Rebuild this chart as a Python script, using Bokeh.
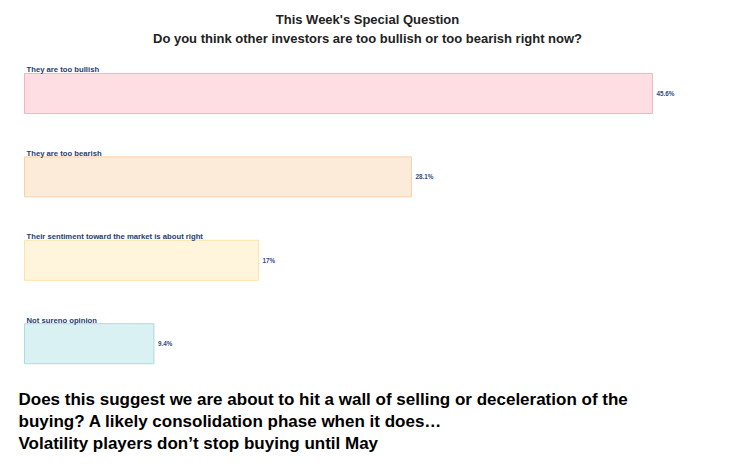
from bokeh.plotting import figure
from bokeh.models import ColumnDataSource, Range1d, Label
from bokeh.core.properties import value
from bokeh.embed import file_html
from bokeh.resources import INLINE

categories = ["They are too bullish", "They are too bearish",
              "Their sentiment toward the market is about right", "Not sureno opinion"]
values = [45.6, 28.1, 17.0, 9.4]
value_labels = ["45.6%", "28.1%", "17%", "9.4%"]
fill_colors = ["#FEDDE3", "#FDEBD9", "#FFF4DC", "#D9F1F2"]
line_colors = ["#F5B3C2", "#FAD0A0", "#FDE3AA", "#ABDCDE"]

title_lines = ["This Week's Special Question",
               "Do you think other investors are too bullish or too bearish right now?"]
footer_lines = ["Does this suggest we are about to hit a wall of selling or deceleration of the",
                "buying? A likely consolidation phase when it does\u2026",
                "Volatility players don\u2019t stop buying until May"]

W, H = 713, 458
px_per_unit = 13.77
left_pad = 24
row_px = 83.4
first_center = 93

idx = list(range(len(categories)))
src = ColumnDataSource(dict(
    y=idx, v=values, cat=categories, lab=value_labels,
    fill=fill_colors, line=line_colors,
    top=[i - 0.24 for i in idx],
))

p = figure(width=W, height=H, output_backend="svg", toolbar_location=None,
           x_range=Range1d(-left_pad / px_per_unit, (W - left_pad) / px_per_unit),
           y_range=Range1d((H - first_center) / row_px, -first_center / row_px),
           min_border=0, outline_line_color=None)
p.axis.visible = False
p.grid.visible = False
p.background_fill_color = "white"
p.border_fill_color = "white"

p.hbar(y="y", left=0, right="v", height=0.48, source=src,
       fill_color="fill", line_color="line", line_width=1)

p.text(x=0, y="top", text="cat", source=src, x_offset=2, y_offset=1,
       text_font=value("Liberation Sans"), text_font_style="bold",
       text_font_size="7.7px", text_color="#1F3D73", text_baseline="bottom")

p.text(x="v", y="y", text="lab", source=src, x_offset=4,
       text_font=value("Liberation Sans"), text_font_style="bold",
       text_font_size="6.3px", text_color="#2E4C80", text_baseline="middle")

title_centers = [19, 38]
for t, yc in zip(title_lines, title_centers):
    p.add_layout(Label(x=367, y=H - yc, x_units="screen", y_units="screen",
                       text=t, text_align="center", text_baseline="middle",
                       text_font="Liberation Sans", text_font_style="bold",
                       text_font_size="13px", text_color="#222222"))

footer_baselines = [399, 421, 443]
for t, yb in zip(footer_lines, footer_baselines):
    p.add_layout(Label(x=18, y=H - yb, x_units="screen", y_units="screen",
                       text=t, text_align="left", text_baseline="alphabetic",
                       text_font="Liberation Sans", text_font_style="bold",
                       text_font_size="17px", text_color="#000000"))

open("out.html", "w").write(file_html(p, INLINE))
